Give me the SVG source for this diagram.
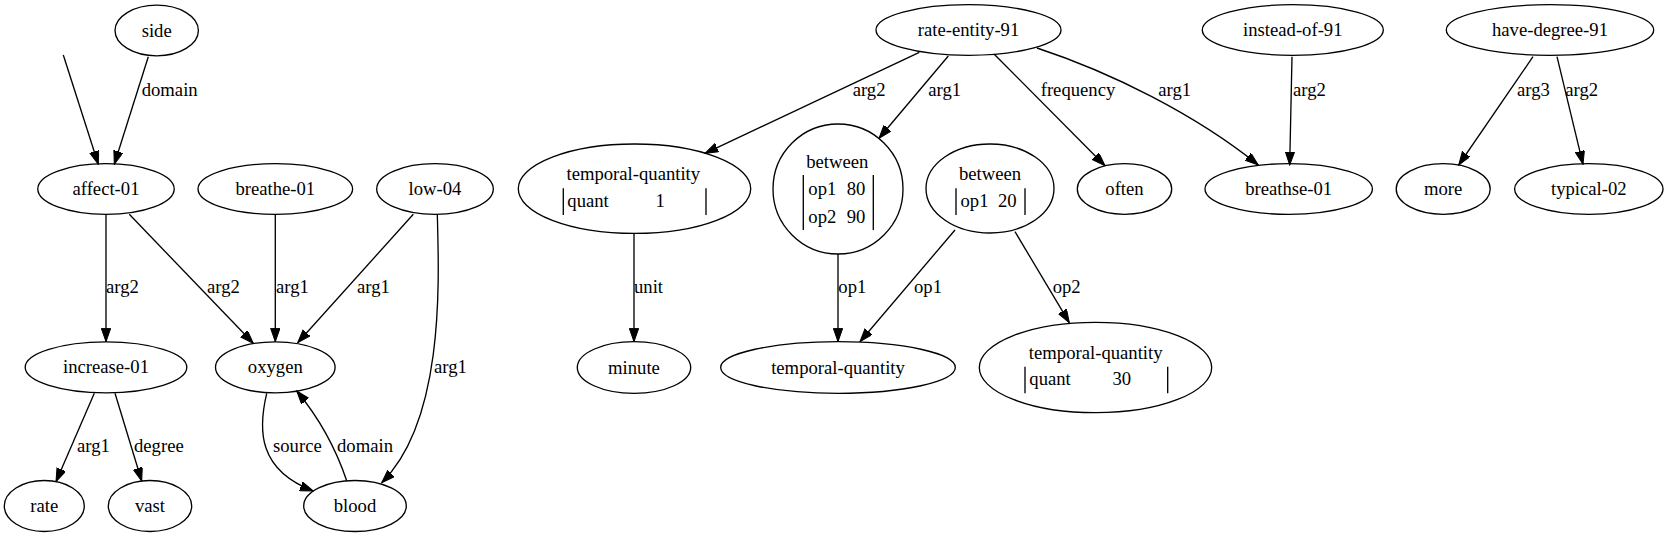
<svg xmlns="http://www.w3.org/2000/svg" width="1668" height="537" viewBox="0 0 1668 537">
<style>
  text { font-family: "Liberation Serif", "Times New Roman", serif; font-size: 18.67px; fill: #000; }
  .n ellipse, .n circle { fill: none; stroke: #000; stroke-width: 1.33; }
  .n text { text-anchor: middle; }
  .n text.lt { text-anchor: start; }
  .bar { stroke: #000; stroke-width: 1.33; }
  #edges path { fill: none; stroke: #000; stroke-width: 1.33; marker-end: url(#arr); }
  #edges text { text-anchor: start; }
</style>
<defs>
  <marker id="arr" markerUnits="userSpaceOnUse" markerWidth="14" markerHeight="10" refX="13.3" refY="4.67" orient="auto">
    <path d="M0,0 L13.3,4.67 L0,9.33 z" fill="#000" stroke="#000" stroke-width="1"/>
  </marker>
</defs>
<rect width="1668" height="537" fill="#fff"/>

<g id="edges">
  <path d="M63.3,55 L98.3,164.3"/>
  <path d="M148.3,56.7 L114.3,164.3"/>
  <text x="141.7" y="95.5">domain</text>
  <path d="M106,214.3 L106,341.7"/>
  <text x="106" y="292.5">arg2</text>
  <path d="M129.3,214.3 L253.3,343.3"/>
  <text x="207" y="292.5">arg2</text>
  <path d="M275.3,214.3 L275.3,341.7"/>
  <text x="276" y="292.5">arg1</text>
  <path d="M413.3,214.3 L297.7,342.7"/>
  <text x="357" y="292.5">arg1</text>
  <path d="M437.3,214.3 C439,280 445,420 381.7,482.7"/>
  <text x="434" y="373">arg1</text>
  <path d="M94.3,393.3 L56,481.7"/>
  <text x="77" y="452">arg1</text>
  <path d="M115,393.3 L141.7,481"/>
  <text x="134" y="452">degree</text>
  <path d="M266.7,393.3 C258,430 258,470 313.3,491"/>
  <text x="273" y="452">source</text>
  <path d="M346.7,480.7 C338,455 325,425 296.7,391"/>
  <text x="337" y="452">domain</text>
  <path d="M919.3,52.3 L705,153.3"/>
  <text x="852.7" y="95.5">arg2</text>
  <path d="M948.3,56 L879,138.3"/>
  <text x="928.3" y="95.5">arg1</text>
  <path d="M994,54 L1105,165.7"/>
  <text x="1040.7" y="95.5">frequency</text>
  <path d="M1037,48 C1110,72 1195,114 1258.3,165"/>
  <text x="1158.3" y="95.5">arg1</text>
  <path d="M1292,56.7 L1289.7,165"/>
  <text x="1293" y="95.5">arg2</text>
  <path d="M1533,56.7 L1458.7,165"/>
  <text x="1517" y="95.5">arg3</text>
  <path d="M1557,56.7 L1583,164.3"/>
  <text x="1565.3" y="95.5">arg2</text>
  <path d="M634,233.3 L634,341.7"/>
  <text x="634" y="292.5">unit</text>
  <path d="M838,254 L838,341.7"/>
  <text x="838.3" y="292.5">op1</text>
  <path d="M955,230 L860,341.7"/>
  <text x="914" y="292.5">op1</text>
  <path d="M1015,231.7 L1069.3,322.7"/>
  <text x="1052.7" y="292.5">op2</text>
</g>

<g id="side" class="n"><ellipse cx="156.7" cy="30.5" rx="41.7" ry="25.3"/><text x="156.7" y="36.5">side</text></g>
<g id="affect-01" class="n"><ellipse cx="106" cy="189" rx="68.2" ry="25.3"/><text x="106" y="195">affect-01</text></g>
<g id="breathe-01" class="n"><ellipse cx="275.3" cy="189" rx="77.3" ry="25.3"/><text x="275.3" y="195">breathe-01</text></g>
<g id="low-04" class="n"><ellipse cx="435" cy="189" rx="58.3" ry="25.3"/><text x="435" y="195">low-04</text></g>
<g id="increase-01" class="n"><ellipse cx="106" cy="367.3" rx="80.8" ry="25.5"/><text x="106" y="373.3">increase-01</text></g>
<g id="oxygen" class="n"><ellipse cx="275.3" cy="367.3" rx="59.8" ry="25.5"/><text x="275.3" y="373.3">oxygen</text></g>
<g id="rate" class="n"><ellipse cx="44.3" cy="506" rx="40" ry="25.5"/><text x="44.3" y="512">rate</text></g>
<g id="vast" class="n"><ellipse cx="150" cy="506" rx="41.7" ry="25.5"/><text x="150" y="512">vast</text></g>
<g id="blood" class="n"><ellipse cx="355" cy="506" rx="51.3" ry="25.5"/><text x="355" y="512">blood</text></g>

<g id="rate-entity-91" class="n"><ellipse cx="968.5" cy="30" rx="92.5" ry="25.3"/><text x="968.5" y="36">rate-entity-91</text></g>
<g id="temporal-quantity-1" class="n">
  <ellipse cx="634.5" cy="188.7" rx="116.2" ry="44.7"/>
  <text x="633.3" y="180">temporal-quantity</text>
  <line class="bar" x1="563.3" y1="188.3" x2="563.3" y2="215"/>
  <line class="bar" x1="706" y1="188.3" x2="706" y2="215"/>
  <text class="lt" x="567.3" y="207">quant</text>
  <text class="lt" x="655.6" y="207">1</text>
</g>
<g id="between-1" class="n">
  <circle cx="838" cy="189" r="65"/>
  <text x="837.3" y="167.5">between</text>
  <line class="bar" x1="803.3" y1="175" x2="803.3" y2="230"/>
  <line class="bar" x1="873.3" y1="175" x2="873.3" y2="230"/>
  <text class="lt" x="808.3" y="195">op1</text>
  <text class="lt" x="846.7" y="195">80</text>
  <text class="lt" x="808.3" y="222.5">op2</text>
  <text class="lt" x="846.7" y="222.5">90</text>
</g>
<g id="between-2" class="n">
  <ellipse cx="990" cy="188.5" rx="64" ry="44.5"/>
  <text x="990" y="180">between</text>
  <line class="bar" x1="956" y1="188.3" x2="956" y2="215"/>
  <line class="bar" x1="1025" y1="188.3" x2="1025" y2="215"/>
  <text class="lt" x="960.5" y="207">op1</text>
  <text class="lt" x="998" y="207">20</text>
</g>
<g id="often" class="n"><ellipse cx="1124.5" cy="189" rx="47.2" ry="25.3"/><text x="1124.5" y="195">often</text></g>
<g id="breathse-01" class="n"><ellipse cx="1288.7" cy="189" rx="83.7" ry="25.3"/><text x="1288.7" y="195">breathse-01</text></g>
<g id="instead-of-91" class="n"><ellipse cx="1292.8" cy="30" rx="90.5" ry="25.3"/><text x="1292.8" y="36">instead-of-91</text></g>
<g id="have-degree-91" class="n"><ellipse cx="1550" cy="30" rx="103.7" ry="25.3"/><text x="1550" y="36">have-degree-91</text></g>
<g id="more" class="n"><ellipse cx="1443.2" cy="189" rx="47" ry="25.3"/><text x="1443.2" y="195">more</text></g>
<g id="typical-02" class="n"><ellipse cx="1588.8" cy="189" rx="74.2" ry="25.3"/><text x="1588.8" y="195">typical-02</text></g>
<g id="minute" class="n"><ellipse cx="634" cy="367.5" rx="56.7" ry="25.8"/><text x="634" y="373.5">minute</text></g>
<g id="temporal-quantity-2" class="n"><ellipse cx="838" cy="367.5" rx="117.3" ry="25.8"/><text x="838" y="373.5">temporal-quantity</text></g>
<g id="temporal-quantity-3" class="n">
  <ellipse cx="1095.5" cy="367.5" rx="116.2" ry="45.2"/>
  <text x="1095.7" y="359">temporal-quantity</text>
  <line class="bar" x1="1025" y1="366.7" x2="1025" y2="393.3"/>
  <line class="bar" x1="1167.7" y1="366.7" x2="1167.7" y2="393.3"/>
  <text class="lt" x="1029.3" y="385">quant</text>
  <text class="lt" x="1112.4" y="385">30</text>
</g>
</svg>
